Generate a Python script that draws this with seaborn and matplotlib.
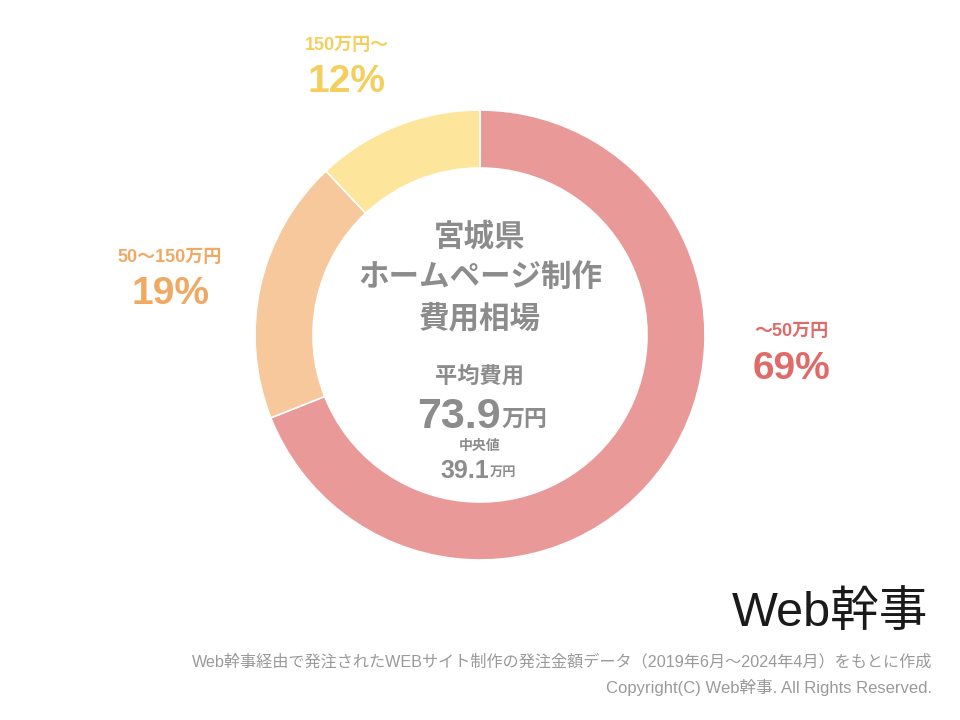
import matplotlib
matplotlib.use("Agg")
import matplotlib.pyplot as plt
import seaborn as sns

# ---- data ----
categories = ["～50万円", "50～150万円", "150万円～"]
shares = [69, 19, 12]
pct_labels = ["69%", "19%", "12%"]
slice_colors = ["#E99A98", "#F6C89B", "#FDE59B"]
text_colors = ["#E06A68", "#F0A962", "#F4CF5E"]
title_lines = ["宮城県", "ホームページ制作", "費用相場"]
avg_label = "平均費用"
avg_value = "73.9"
median_label = "中央値"
median_value = "39.1"
unit = "万円"
footer1 = "Web幹事経由で発注されたWEBサイト制作の発注金額データ（2019年6月～2024年4月）をもとに作成"
footer2 = "Copyright(C) Web幹事. All Rights Reserved."

sns.set_theme(style="white")
plt.rcParams['font.family'] = ['Liberation Sans', 'Noto Sans CJK JP', 'DejaVu Sans']

W, H = 960, 720
fig = plt.figure(figsize=(9.6, 7.2), dpi=100)
ax = fig.add_axes([0, 0, 1, 1])

def Y(y):
    return H - y

cx, cy, R = 480, 335, 225
ax.pie(shares, colors=slice_colors, startangle=90, counterclock=False,
       center=(cx, Y(cy)), radius=R,
       wedgeprops=dict(width=58, edgecolor="white", linewidth=1.2), frame=True)
ax.set_xlim(0, W)
ax.set_ylim(0, H)
ax.set_aspect("equal")
ax.axis("off")

# slice labels
label_pos = [(791, 331, 369), (170, 258, 294), (347, 46, 82)]
for cat, pct, col, (x, y1, y2) in zip(categories, pct_labels, text_colors, label_pos):
    ax.text(x, Y(y1), cat, ha="center", va="center", fontsize=13, fontweight="bold", color=col)
    ax.text(x, Y(y2), pct, ha="center", va="center", fontsize=28, fontweight="bold", color=col)

gray = "#8C8C8C"
for line, y in zip(title_lines, [238, 278, 319]):
    ax.text(cx, Y(y), line, ha="center", va="center", fontsize=22, fontweight="bold", color=gray)
ax.text(cx, Y(377), avg_label, ha="center", va="center", fontsize=16, fontweight="bold", color=gray)
ax.text(501, Y(428), avg_value, ha="right", va="baseline", fontsize=31, fontweight="bold", color=gray)
ax.text(502, Y(419), unit, ha="left", va="center", fontsize=16.5, fontweight="bold", color=gray)
ax.text(cx, Y(446), median_label, ha="center", va="center", fontsize=10, fontweight="bold", color=gray)
ax.text(489, Y(478), median_value, ha="right", va="baseline", fontsize=18, fontweight="bold", color=gray)
ax.text(490, Y(473), unit, ha="left", va="center", fontsize=9.5, fontweight="bold", color=gray)

# logo
ax.text(928, Y(614), "Web幹事", ha="right", va="center", fontsize=35, color="#1a1a1a")

# footer
ax.text(932, Y(662), footer1, ha="right", va="center", fontsize=11.6, color="#9A9A9A")
ax.text(932, Y(688), footer2, ha="right", va="center", fontsize=12, color="#9A9A9A")

fig.savefig("out.png", dpi=100, facecolor="white")
